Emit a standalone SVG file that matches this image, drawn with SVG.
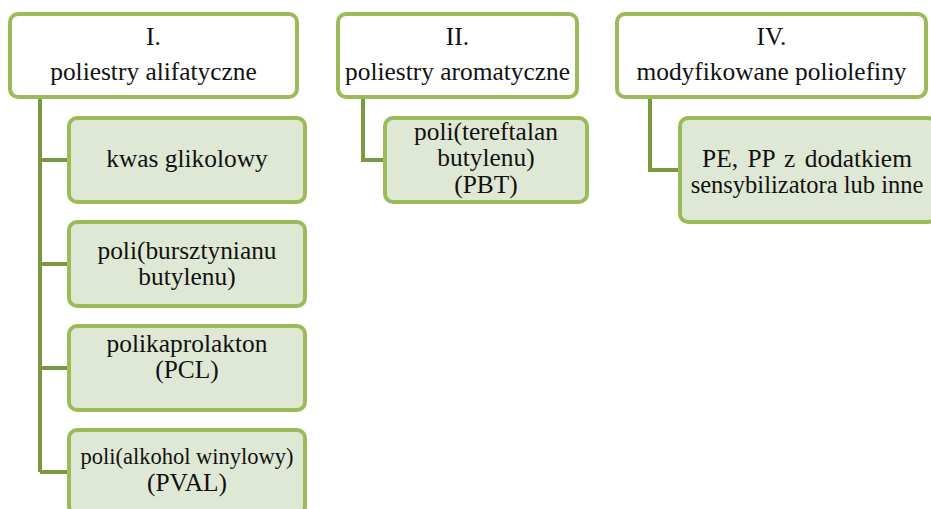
<svg xmlns="http://www.w3.org/2000/svg" width="931" height="509" viewBox="0 0 931 509">
<style>
.top{fill:#ffffff;stroke:#9bbb59;stroke-width:4}
.child{fill:#dfe8d4;stroke:#9bbb59;stroke-width:4}
.conn{fill:none;stroke:#7a9a42;stroke-width:4}
.t{font-size:25.4px;fill:#111;text-anchor:middle}
</style>
<rect width="931" height="509" fill="#ffffff"/>
<g id="connectors">
<path class="conn" d="M40,97 V472 M40,160 H69 M40,264 H69 M40,368 H69 M40,472 H69"/>
<path class="conn" d="M363,97 V160 H385"/>
<path class="conn" d="M650,97 V170 H680"/>
</g>
<g font-family="'Liberation Serif', 'DejaVu Serif', serif">
<g id="n1"><rect class="top" x="10" y="14" width="287" height="83" rx="8"/><text class="t" x="153.5" y="45">I.</text><text class="t" x="153.5" y="80">poliestry alifatyczne</text></g>
<g id="n1a"><rect class="child" x="69" y="118" width="236" height="84" rx="8"/><text class="t" x="187" y="167">kwas glikolowy</text></g>
<g id="n1b"><rect class="child" x="69" y="222" width="236" height="84" rx="8"/><text class="t" x="187" y="259">poli(bursztynianu</text><text class="t" x="187" y="285">butylenu)</text></g>
<g id="n1c"><rect class="child" x="69" y="326" width="236" height="84" rx="8"/><text class="t" x="187" y="352">polikaprolakton</text><text class="t" x="187" y="378">(PCL)</text></g>
<g id="n1d"><rect class="child" x="69" y="430" width="236" height="84" rx="8"/><text class="t" x="187" y="464" style="font-size:22.5px">poli(alkohol winylowy)</text><text class="t" x="187" y="491">(PVAL)</text></g>
<g id="n2"><rect class="top" x="338" y="14" width="239" height="83" rx="8"/><text class="t" x="457.5" y="45">II.</text><text class="t" x="457.5" y="80">poliestry aromatyczne</text></g>
<g id="n2a"><rect class="child" x="385" y="118" width="202" height="84" rx="8"/><text class="t" x="486" y="140">poli(tereftalan</text><text class="t" x="486" y="166">butylenu)</text><text class="t" x="486" y="193">(PBT)</text></g>
<g id="n4"><rect class="top" x="617" y="14" width="309" height="83" rx="8"/><text class="t" x="771.5" y="45">IV.</text><text class="t" x="771.5" y="80">modyfikowane poliolefiny</text></g>
<g id="n4a"><rect class="child" x="680" y="118" width="256" height="104" rx="8"/><text class="t" x="807" y="167" word-spacing="3">PE, PP z dodatkiem</text><text class="t" x="807" y="193" style="font-size:24.5px">sensybilizatora lub inne</text></g>
</g>
</svg>
